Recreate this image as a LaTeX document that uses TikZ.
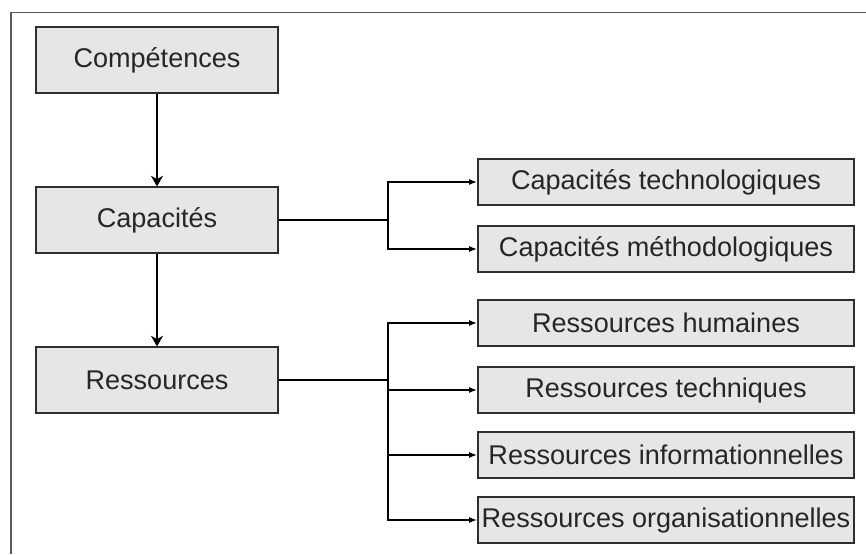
\documentclass[tikz,border=0pt]{standalone}
\usepackage{fontspec}
\setmainfont{Liberation Sans}
\usepackage[dvipsnames]{xcolor}
\usepackage{tikz}
\usetikzlibrary{arrows.meta}
\definecolor{boxgray}{HTML}{E6E6E6}
\definecolor{linegray}{HTML}{2E2E2E}

\begin{document}
\begin{tikzpicture}[x=0.75pt, y=-0.75pt, line width=1.5pt,
  every node/.style={rectangle, draw=linegray, line width=1.3pt, fill=boxgray, text=black!85, inner sep=0pt, font=\fontsize{20.3}{24}\selectfont},
  mainbox/.style={minimum width=182pt, minimum height=49pt},
  subbox/.style={minimum width=282pt, minimum height=34.5pt},
  down/.style={-{Stealth[length=8pt, width=9pt, inset=2.5pt]}},
  side/.style={-{Latex[length=6pt, width=4.5pt]}}]
  \useasboundingbox (0,0) rectangle (866,554);
  \draw [black!65, line width=1.1pt] (11,554) -- (11,12.5) -- (866,12.5);
  \node [mainbox] (comp) at (157, 60) {Compétences};
  \node [mainbox] (cap) at (157, 220) {Capacités};
  \node [mainbox] (res) at (157, 380) {Ressources};
  \node [subbox] (ct) at (666, 182) {Capacités technologiques};
  \node [subbox] (cm) at (666, 249) {Capacités méthodologiques};
  \node [subbox] (rh) at (666, 323) {Ressources humaines};
  \node [subbox] (rt) at (666, 390) {Ressources techniques};
  \node [subbox] (ri) at (666, 455) {Ressources informationnelles};
  \node [subbox] (ro) at (666, 520) {Ressources organisationnelles};
  \coordinate (jc) at (388, 220);
  \coordinate (jr) at (388, 380);
  \draw [down] (comp) -- (cap);
  \draw [down] (cap) -- (res);
  \draw (cap) -- (jc);
  \draw [side] (jc) |- (ct);
  \draw [side] (jc) |- (cm);
  \draw (res) -- (jr);
  \draw [side] (jr) |- (rh);
  \draw [side] (jr) |- (rt);
  \draw [side] (jr) |- (ri);
  \draw [side] (jr) |- (ro);
\end{tikzpicture}
\end{document}
